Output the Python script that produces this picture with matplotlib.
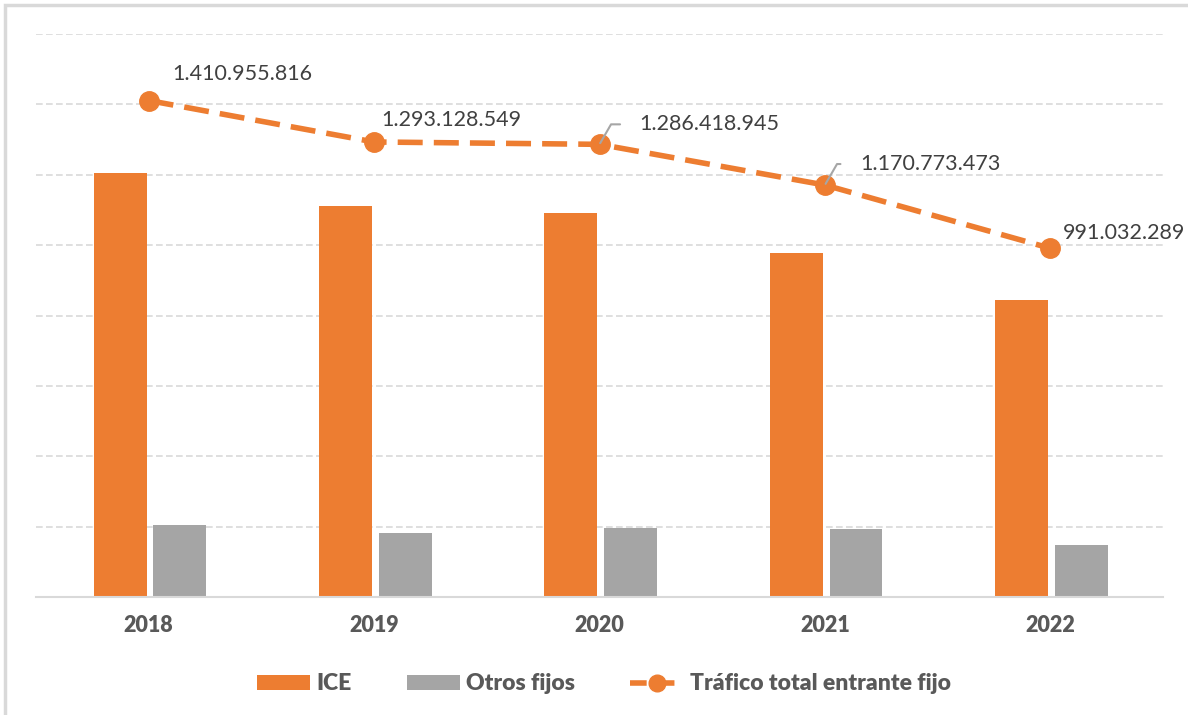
import matplotlib.pyplot as plt
import numpy as np
from matplotlib.patches import Rectangle
from matplotlib.lines import Line2D
from matplotlib.patches import Patch

# Datos (tráfico entrante fijo, minutos)
years = ["2018", "2019", "2020", "2021", "2022"]
ice = [1205e6, 1112e6, 1091e6, 977e6, 843e6]
otros = [206e6, 181e6, 195e6, 194e6, 148e6]
total = [1410955816, 1293128549, 1286418945, 1170773473, 991032289]
total_labels = ["1.410.955.816", "1.293.128.549", "1.286.418.945",
                "1.170.773.473", "991.032.289"]

ORANGE = "#ED7D31"
GRAY = "#A5A5A5"
TXT = "#595959"
FONT = ["Lato", "DejaVu Sans"]

plt.rcParams["font.family"] = FONT

fig = plt.figure(figsize=(11.88, 7.15), dpi=100)
ax = fig.add_axes([36 / 1188, 1 - 597 / 715, 1127 / 1188, 563 / 715])

# borde del gráfico (solo visible arriba e izquierda)
fig.patches.append(Rectangle((5 / 1188, -0.1), 1.2, 1 - 5 / 715 + 0.1,
                             transform=fig.transFigure, fill=False,
                             edgecolor="#D9D9D9", linewidth=2.5))

x = np.arange(len(years))
w = 0.235
ax.bar(x - 0.127, ice, width=w, color=ORANGE, zorder=2)
ax.bar(x + 0.138, otros, width=w, color=GRAY, zorder=2)
ax.plot(x, total, color=ORANGE, linewidth=4, linestyle=(0, (4.5, 2)),
        marker="o", markersize=14, zorder=3)

# etiquetas de datos
offsets = [(24, 27), (7, 22), (40, 20), (35, 21), (13, 15)]
leaders = [False, False, True, True, False]
for i, (lab, off, lead) in enumerate(zip(total_labels, offsets, leaders)):
    kw = {}
    if lead:
        kw["arrowprops"] = dict(arrowstyle="-", color="#A6A6A6", lw=1.5,
                                connectionstyle="angle,angleA=0,angleB=60,rad=0",
                                relpos=(0, 0.5), shrinkA=12, shrinkB=1)
    ax.annotate(lab, xy=(x[i], total[i]), xytext=off, textcoords="offset pixels",
                ha="left", va="center", fontsize=15.5, color="#404040", **kw)

ax.set_xlim(-0.5, 4.5)
ax.set_ylim(0, 1.6e9)
ax.set_yticks(np.arange(2e8, 1.61e9, 2e8))
ax.yaxis.grid(True, color="#D9D9D9", linestyle=(0, (4, 2)), linewidth=1.2, zorder=0)
ax.set_axisbelow(True)
ax.tick_params(axis="y", left=False, labelleft=False)
ax.tick_params(axis="x", length=0, pad=13)
ax.set_xticks(x)
ax.set_xticklabels(years, fontsize=15.5, fontweight="heavy", color=TXT)
for s in ["top", "right", "left"]:
    ax.spines[s].set_visible(False)
ax.spines["bottom"].set_color("#D9D9D9")
ax.spines["bottom"].set_linewidth(1.5)

handles = [
    Patch(facecolor=ORANGE, edgecolor="none"),
    Patch(facecolor=GRAY, edgecolor="none"),
    Line2D([], [], color=ORANGE, linewidth=4, linestyle=(0, (3, 2)),
           marker="o", markersize=12),
]
fig.legend(handles, ["ICE", "Otros fijos", "Tráfico total entrante fijo"],
           loc="center", bbox_to_anchor=(0.5 + 10 / 1188, 1 - 684 / 715), ncol=3,
           frameon=False, handlelength=2.3, handleheight=0.6,
           columnspacing=2.4, handletextpad=0.3,
           prop={"family": FONT, "size": 16.5, "weight": "heavy"},
           labelcolor=TXT)

fig.savefig("out.png", dpi=100)
